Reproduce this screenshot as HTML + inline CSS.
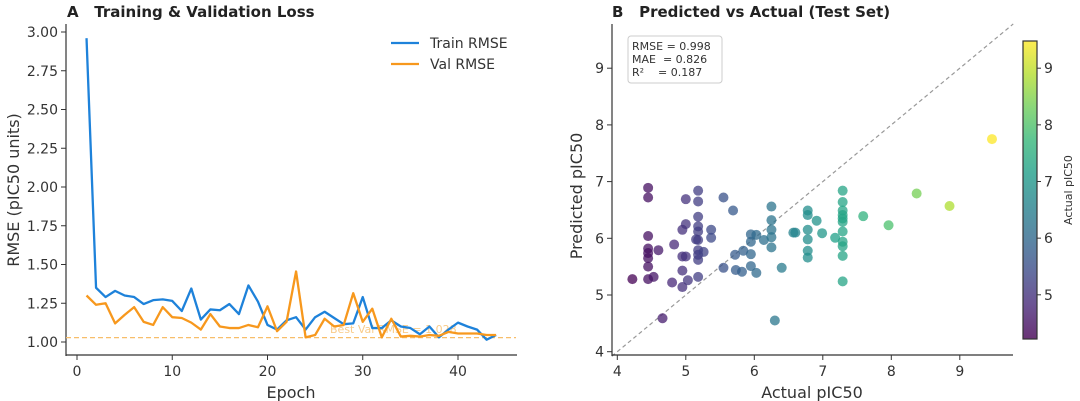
<!DOCTYPE html>
<html><head><meta charset="utf-8"><style>
body{margin:0;background:#fff;}
svg{display:block;font-family:"DejaVu Sans","Liberation Sans",sans-serif;}
.pre{white-space:pre;}
</style></head><body>
<svg id="c" width="1080" height="401" viewBox="0 0 1080 401"></svg>
<script>
const epochs=[1,2,3,4,5,6,7,8,9,10,11,12,13,14,15,16,17,18,19,20,21,22,23,24,25,26,27,28,29,30,31,32,33,34,35,36,37,38,39,40,41,42,43,44];
const trainRmse=[2.96,1.35,1.29,1.33,1.30,1.29,1.245,1.27,1.275,1.265,1.20,1.345,1.145,1.21,1.205,1.245,1.18,1.365,1.26,1.11,1.08,1.14,1.16,1.08,1.16,1.195,1.155,1.115,1.12,1.29,1.09,1.09,1.14,1.10,1.09,1.05,1.10,1.03,1.08,1.125,1.10,1.08,1.015,1.045];
const valRmse=[1.30,1.24,1.25,1.12,1.175,1.225,1.13,1.11,1.225,1.16,1.155,1.125,1.08,1.18,1.10,1.09,1.09,1.11,1.095,1.23,1.07,1.13,1.455,1.03,1.045,1.15,1.10,1.11,1.315,1.13,1.215,1.03,1.15,1.035,1.04,1.035,1.045,1.04,1.065,1.055,1.055,1.055,1.045,1.045];
const bestVal=1.028;
const lossXTicks=[0,10,20,30,40];
const lossYTicks=["1.00","1.25","1.50","1.75","2.00","2.25","2.50","2.75","3.00"];
const actual=[4.22,4.45,4.45,4.45,4.45,4.45,4.45,4.45,4.45,4.53,4.6,4.66,4.8,4.83,4.95,4.95,4.95,4.95,5.0,5.0,5.0,5.03,5.18,5.18,5.18,5.18,5.18,5.18,5.18,5.18,5.18,5.18,5.15,5.26,5.37,5.37,5.55,5.55,5.69,5.72,5.73,5.82,5.84,5.95,5.95,5.95,5.95,6.03,6.03,6.14,6.25,6.25,6.25,6.25,6.25,6.3,6.4,6.57,6.6,6.78,6.78,6.78,6.78,6.78,6.78,6.91,6.99,7.18,7.29,7.29,7.29,7.29,7.29,7.29,7.29,7.29,7.29,7.29,7.29,7.59,7.96,8.37,8.85,9.47];
const predicted=[5.28,6.89,6.72,6.04,5.82,5.74,5.65,5.5,5.28,5.32,5.79,4.59,5.22,5.89,5.14,5.43,5.68,6.15,6.69,6.25,5.68,5.26,6.84,6.65,6.38,6.21,6.12,5.97,5.79,5.71,5.62,5.32,5.98,5.76,6.15,6.01,6.72,5.48,6.49,5.71,5.44,5.41,5.78,6.07,5.94,5.72,5.51,5.39,6.06,5.97,6.56,6.32,6.15,6.02,5.84,4.55,5.48,6.1,6.1,6.49,6.41,6.15,5.98,5.78,5.66,6.31,6.09,6.01,6.84,6.64,6.49,6.41,6.35,6.29,6.12,5.94,5.86,5.69,5.24,6.39,6.23,6.79,6.57,7.75];
const scatTicks=[4,5,6,7,8,9];
const cbarTicks=[5,6,7,8,9];

const NS="http://www.w3.org/2000/svg";
const svg=document.getElementById('c');
function mk(tag,attrs,parent){const e=document.createElementNS(NS,tag);for(const k in attrs)e.setAttribute(k,attrs[k]);(parent||svg).appendChild(e);return e;}
function txt(s,attrs,parent){const e=mk('text',attrs,parent);e.textContent=s;return e;}
const ax='#333', tc='#333';

// ---- Panel A
const lx=e=>77+e*9.525, ly=v=>342-(v-1)*155;
const gA=mk('g',{});
let t=txt('A   Training & Validation Loss',{x:67,y:17,'font-size':15,'font-weight':'bold',fill:'#222',class:'pre'},gA);
let l=mk('line',{x1:66,y1:24,x2:66,y2:356,stroke:ax,'stroke-width':1.2},gA);
l=mk('line',{x1:66,y1:355,x2:517,y2:355,stroke:ax,'stroke-width':1.2},gA);
lossXTicks.forEach(v=>{mk('line',{x1:lx(v),x2:lx(v),y1:355,y2:360,stroke:ax},gA);const e=txt(v,{x:lx(v),y:376,'font-size':14,'text-anchor':'middle',fill:tc},gA);});
lossYTicks.forEach(s=>{const v=parseFloat(s);mk('line',{x1:61,x2:66,y1:ly(v),y2:ly(v),stroke:ax},gA);const e=txt(s,{x:58,y:ly(v)+5,'font-size':14,'text-anchor':'end',fill:tc},gA);});
t=txt('Epoch',{x:291,y:398,'font-size':16,'text-anchor':'middle',fill:tc},gA);
t=txt('RMSE (pIC50 units)',{x:0,y:0,'font-size':16,'text-anchor':'middle',fill:tc,transform:'translate(19,190) rotate(-90)'},gA);
l=mk('line',{x1:66,x2:516,y1:ly(bestVal),y2:ly(bestVal),stroke:'#F7BE6A','stroke-width':1.3,'stroke-dasharray':'5,3'},gA);
t=txt('Best Val RMSE = '+bestVal.toFixed(3),{x:330,y:333,'font-size':11,fill:'#F5A93A','fill-opacity':0.6},gA);
function line(arr,col,name){const p=mk('polyline',{points:arr.map((v,i)=>lx(epochs[i])+','+ly(v)).join(' '),fill:'none',stroke:col,'stroke-width':2.3,'stroke-linejoin':'round'},gA);}
line(trainRmse,'#1E82DA','train-rmse-line');
line(valRmse,'#F7981D','val-rmse-line');
let lg=mk('g',{},gA);
mk('line',{x1:391,x2:419,y1:43,y2:43,stroke:'#1E82DA','stroke-width':2.3},lg);
txt('Train RMSE',{x:430,y:48,'font-size':14,fill:tc},lg);
mk('line',{x1:391,x2:419,y1:64,y2:64,stroke:'#F7981D','stroke-width':2.3},lg);
txt('Val RMSE',{x:430,y:69,'font-size':14,fill:tc},lg);

// ---- Panel B
const sx=v=>617.3+(v-4)*68.5, sy=v=>351.7-(v-4)*56.7;
const gB=mk('g',{});
t=txt('B   Predicted vs Actual (Test Set)',{x:612,y:17,'font-size':15,'font-weight':'bold',fill:'#222',class:'pre'},gB);
l=mk('line',{x1:sx(3.92),y1:sy(3.92),x2:sx(9.78),y2:sy(9.78),stroke:'#999','stroke-width':1.2,'stroke-dasharray':'4,3'},gB);
const vir=[[68,1,84],[72,40,120],[62,74,137],[49,104,142],[38,130,142],[31,158,137],[53,183,121],[109,205,89],[180,222,44],[253,231,37]];
function cmap(v){let f=Math.max(0,Math.min(1,(v-4.22)/(9.48-4.22)))*9;const i=Math.min(8,Math.floor(f)),r=f-i;const a=vir[i],b=vir[i+1];return 'rgb('+a.map((c,k)=>Math.round(c+(b[k]-c)*r)).join(',')+')';}
actual.forEach((a,i)=>{const c=mk('circle',{cx:sx(a),cy:sy(predicted[i]),r:5,fill:cmap(a),'fill-opacity':0.75},gB);});
l=mk('line',{x1:612,y1:24,x2:612,y2:356,stroke:ax,'stroke-width':1.2},gB);
l=mk('line',{x1:612,y1:355,x2:1013,y2:355,stroke:ax,'stroke-width':1.2},gB);
scatTicks.forEach(v=>{mk('line',{x1:sx(v),x2:sx(v),y1:355,y2:360,stroke:ax},gB);let e=txt(v,{x:sx(v),y:376,'font-size':14,'text-anchor':'middle',fill:tc},gB);
mk('line',{x1:607,x2:612,y1:sy(v),y2:sy(v),stroke:ax},gB);e=txt(v,{x:604,y:sy(v)+5,'font-size':14,'text-anchor':'end',fill:tc},gB);});
t=txt('Actual pIC50',{x:812,y:398,'font-size':16,'text-anchor':'middle',fill:tc},gB);
t=txt('Predicted pIC50',{x:0,y:0,'font-size':16,'text-anchor':'middle',fill:tc,transform:'translate(582,196) rotate(-90)'},gB);
let sb=mk('g',{},gB);
mk('rect',{x:628,y:36,width:94,height:47,rx:3,fill:'#fff',stroke:'#ccc'},sb);
txt('RMSE = 0.998',{x:632,y:50,'font-size':11,fill:'#333',class:'pre'},sb);
txt('MAE  = 0.826',{x:632,y:63,'font-size':11,fill:'#333',class:'pre'},sb);
txt('R²    = 0.187',{x:632,y:76,'font-size':11,fill:'#333',class:'pre'},sb);
// colorbar
let cb=mk('g',{},gB);
const defs=mk('defs',{},cb);const gr=mk('linearGradient',{id:'vg',x1:0,y1:1,x2:0,y2:0},defs);
vir.forEach((c,i)=>mk('stop',{offset:(i/9),'stop-color':'rgb('+c.join(',')+')','stop-opacity':0.8},gr));
mk('rect',{x:1023,y:41,width:14,height:298,fill:'url(#vg)',stroke:'#333','stroke-width':1.2},cb);
const cy=v=>339-(v-4.22)/(9.48-4.22)*298;
cbarTicks.forEach(v=>{mk('line',{x1:1037,x2:1041,y1:cy(v),y2:cy(v),stroke:ax},cb);const e=txt(v,{x:1044,y:cy(v)+5,'font-size':14,fill:tc},cb);});
t=txt('Actual pIC50',{x:0,y:0,'font-size':11,'text-anchor':'middle',fill:tc,transform:'translate(1072,190) rotate(-90)'},cb);
</script>
</body></html>
